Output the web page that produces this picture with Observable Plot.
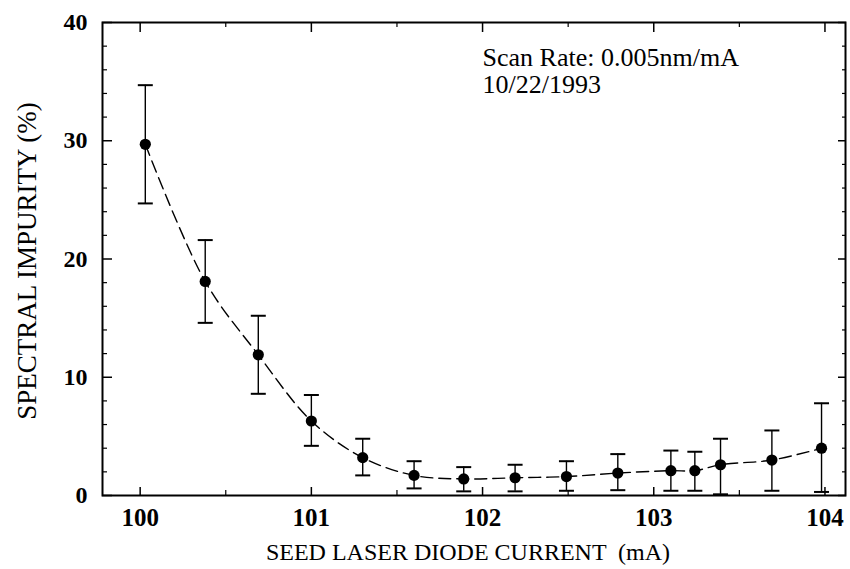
<!DOCTYPE html>
<html>
<head>
<meta charset="utf-8">
<script src="https://cdn.jsdelivr.net/npm/d3@7"></script>
<script src="https://cdn.jsdelivr.net/npm/@observablehq/plot@0.6"></script>
<style>
  html, body { margin: 0; padding: 0; background: #fff; }
</style>
</head>
<body>
<div id="chart"></div>
<script>
// Seed laser diode current (mA)
const current   = [100.03, 100.38, 100.69, 101.00, 101.30, 101.60, 101.89, 102.19, 102.49, 102.79, 103.10, 103.24, 103.39, 103.69, 103.98];
// Spectral impurity (%)
const impurity  = [29.7, 18.1, 11.9, 6.3, 3.2, 1.7, 1.4, 1.5, 1.6, 1.9, 2.1, 2.1, 2.6, 3.0, 4.0];
// Error bar upper / lower ends (%)
const errHigh   = [34.7, 21.6, 15.2, 8.5, 4.8, 2.9, 2.4, 2.6, 2.9, 3.5, 3.8, 3.7, 4.8, 5.5, 7.8];
const errLow    = [24.7, 14.6, 8.6, 4.2, 1.7, 0.6, 0.35, 0.35, 0.4, 0.45, 0.4, 0.4, 0.1, 0.4, 0.3];

// Ticks and labels
const xMajorTicks = [100, 101, 102, 103, 104];
const xMinorTicks = [100.5, 101.5, 102.5, 103.5];
const yMajorTicks = [0, 10, 20, 30, 40];
const yMinorTicks = [2, 4, 6, 8, 12, 14, 16, 18, 22, 24, 26, 28, 32, 34, 36, 38];

const xTitle = "SEED LASER DIODE CURRENT  (mA)";
const yTitle = "SPECTRAL IMPURITY (%)";
const noteLines = ["Scan Rate: 0.005nm/mA", "10/22/1993"];

const data = current.map((x, i) => ({x, y: impurity[i], lo: errLow[i], hi: errHigh[i]}));

const capSymbol = {draw(ctx) { ctx.moveTo(-7.5, 0); ctx.lineTo(7.5, 0); }};

const font = "'Liberation Serif', 'Times New Roman', serif";
const intFmt = d => String(d);

const chart = Plot.plot({
  width: 850,
  height: 569,
  marginLeft: 102,
  marginRight: 5,
  marginTop: 22,
  marginBottom: 74,
  style: {fontFamily: font, fontSize: "24px", color: "black", background: "white"},
  x: {domain: [99.78, 104.12], label: null},
  y: {domain: [0, 40], label: null},
  marks: [
    // bottom axis
    Plot.axisX(xMajorTicks, {anchor: "bottom", tickSize: -8, tickPadding: 21, tickFormat: intFmt, label: null, fontWeight: "bold", fontSize: 25, strokeWidth: 1.5}),
    Plot.axisX(xMinorTicks, {anchor: "bottom", tickSize: -5, tickFormat: () => "", label: null, strokeWidth: 1.2}),
    // top axis
    Plot.axisX(xMajorTicks, {anchor: "top", tickSize: -9, tickFormat: () => "", label: null, strokeWidth: 1.5}),
    Plot.axisX(xMinorTicks, {anchor: "top", tickSize: -4, tickFormat: () => "", label: null, strokeWidth: 1.2}),
    // left axis
    Plot.axisY(yMajorTicks, {anchor: "left", tickSize: -10, tickPadding: 25, tickFormat: intFmt, label: null, fontWeight: "bold", fontSize: 24, strokeWidth: 1.5}),
    Plot.axisY(yMinorTicks, {anchor: "left", tickSize: -5, tickFormat: () => "", label: null, strokeWidth: 1.2}),
    // right axis
    Plot.axisY(yMajorTicks, {anchor: "right", tickSize: -8, tickFormat: () => "", label: null, strokeWidth: 1.5}),
    Plot.axisY(yMinorTicks, {anchor: "right", tickSize: -4, tickFormat: () => "", label: null, strokeWidth: 1.2}),
    Plot.frame({stroke: "black", strokeWidth: 2}),
    // fitted dashed curve
    Plot.line(data, {x: "x", y: "y", curve: "catmull-rom", stroke: "black", strokeWidth: 1.4, strokeDasharray: "12,6"}),
    // error bars
    Plot.ruleX(data, {x: "x", y1: "lo", y2: "hi", stroke: "black", strokeWidth: 1.4}),
    Plot.dot(data, {x: "x", y: "hi", symbol: capSymbol, r: 5, stroke: "black", fill: "none", strokeWidth: 2}),
    Plot.dot(data, {x: "x", y: "lo", symbol: capSymbol, r: 5, stroke: "black", fill: "none", strokeWidth: 2}),
    // data points
    Plot.dot(data, {x: "x", y: "y", r: 5.6, fill: "black", stroke: "none"}),
    // annotation
    Plot.text([noteLines.join("\n")], {x: 102, y: 37.9, text: d => d, textAnchor: "start", lineAnchor: "top", fontSize: 26, lineHeight: 1.03, fill: "black"}),
    // axis titles
    Plot.text([xTitle], {frameAnchor: "bottom", text: d => d, textAnchor: "middle", dy: 57, dx: -6, lineAnchor: "middle", fontSize: 24, fill: "black"}),
    Plot.text([yTitle], {frameAnchor: "left", text: d => d, textAnchor: "middle", dx: -75, dy: 2, rotate: -90, lineAnchor: "middle", fontSize: 27, fill: "black", style: "letter-spacing:1px"})
  ]
});

document.getElementById("chart").appendChild(chart);
</script>
</body>
</html>
